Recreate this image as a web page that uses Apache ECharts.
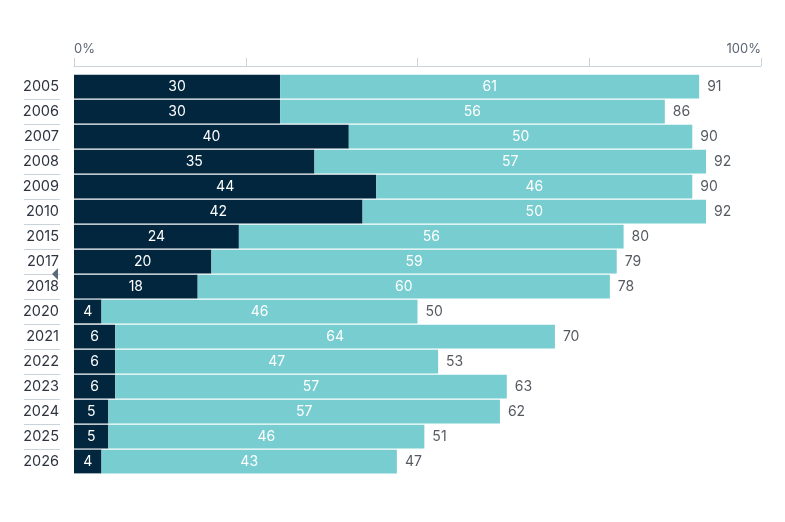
<!DOCTYPE html>
<html>
<head>
<meta charset="utf-8">
<script src="https://cdn.jsdelivr.net/npm/echarts@6/dist/echarts.min.js"></script>
<style>
  html, body { margin: 0; padding: 0; background: #fff; }
  #chart { width: 785px; height: 522px; }
</style>
</head>
<body>
<div id="chart"></div>
<script>
// 数据
var years = ['2005','2006','2007','2008','2009','2010','2015','2017','2018','2020','2021','2022','2023','2024','2025','2026'];
var darkValues = [30, 30, 40, 35, 44, 42, 24, 20, 18, 4, 6, 6, 6, 5, 5, 4];
var tealValues = [61, 56, 50, 57, 46, 50, 56, 59, 60, 46, 64, 47, 57, 57, 46, 43];
var totals = [91, 86, 90, 92, 90, 92, 80, 79, 78, 50, 70, 53, 63, 62, 51, 47];
var xTicks = [0, 25, 50, 75, 100];

var font = 'Inter, "Noto Sans", sans-serif';
var myChart = echarts.init(document.getElementById('chart'));

var option = {
    animation: false,
    textStyle: { fontFamily: font },
    grid: { left: 74, right: 24, top: 74, bottom: 48 },
    xAxis: {
        type: 'value',
        position: 'top',
        offset: 8,
        min: xTicks[0],
        max: xTicks[xTicks.length - 1],
        interval: 25,
        axisLine: { show: true, lineStyle: { color: '#c8d3dc', width: 1 } },
        axisTick: { show: true, length: 8, lineStyle: { color: '#c8d3dc' } },
        splitLine: { show: false },
        axisLabel: {
            color: '#5c6573',
            fontSize: 13,
            margin: 10,
            alignMinLabel: 'left',
            alignMaxLabel: 'right',
            formatter: function (v) {
                return (v === 0 || v === 100) ? v + '%' : '';
            }
        }
    },
    yAxis: {
        type: 'category',
        inverse: true,
        data: years,
        axisLine: { show: false },
        axisTick: { show: false },
        axisLabel: { color: '#2e3440', fontSize: 14.5, margin: 15, padding: [0, 0, 2, 0] }
    },
    series: [
        {
            name: 'dark',
            type: 'bar',
            stack: 'total',
            barCategoryGap: '5%',
            data: darkValues,
            itemStyle: { color: '#01263d' },
            label: { show: true, position: 'inside', color: '#fff', fontSize: 14 }
        },
        {
            name: 'teal',
            type: 'bar',
            stack: 'total',
            data: tealValues,
            itemStyle: { color: '#78cdd0' },
            label: { show: true, position: 'inside', color: '#fff', fontSize: 14 }
        },
        {
            name: 'total',
            type: 'scatter',
            symbolSize: 0,
            data: totals.map(function (v, i) { return [v, years[i]]; }),
            label: {
                show: true,
                position: 'right',
                distance: 8,
                color: '#2a2f38',
                fontSize: 14,
                formatter: function (p) { return p.value[0]; }
            }
        }
    ]
};
myChart.setOption(option);

// 左侧分隔线
var lines = [];
for (var i = 0; i < years.length - 1; i++) {
    var y = Math.round(myChart.convertToPixel({ yAxisIndex: 0 }, i) + 12.5) + 0.5;
    lines.push({
        type: 'line',
        shape: { x1: 24, y1: y, x2: 60, y2: y },
        style: { stroke: '#c8d3dc', lineWidth: 1 }
    });
}
var yTri = myChart.convertToPixel({ yAxisIndex: 0 }, 7) + 12.5;
lines.push({
    type: 'polygon',
    shape: { points: [[52, yTri], [58, yTri - 6], [58, yTri + 6]] },
    style: { fill: '#5a6a7a' }
});
myChart.setOption({ graphic: lines });
</script>
</body>
</html>
